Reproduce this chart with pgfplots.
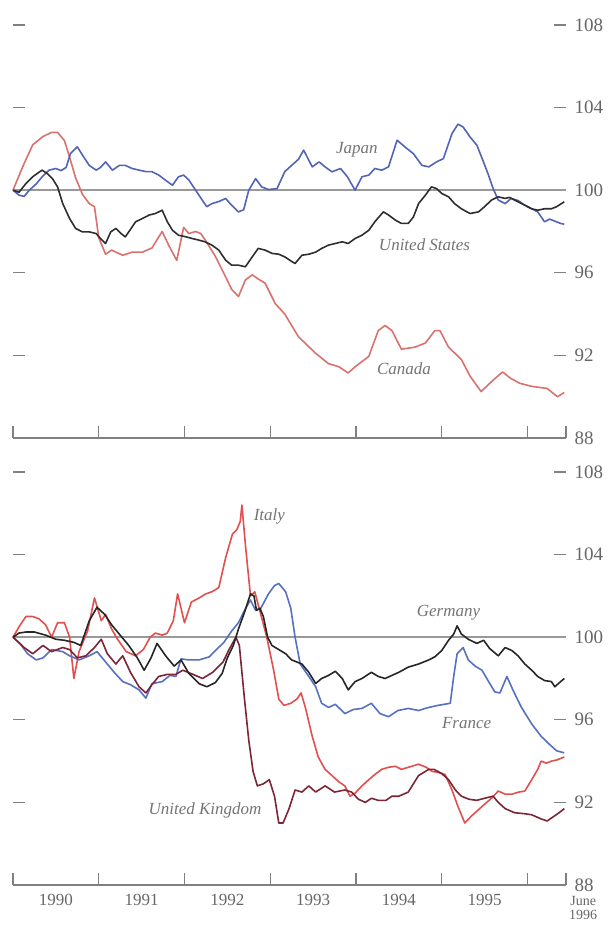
\documentclass[border=0pt]{standalone}
\usepackage{fontspec}
\setmainfont{Liberation Serif}
\usepackage{pgfplots}
\pgfplotsset{compat=1.18}
\definecolor{cancol}{HTML}{D9716D}
\definecolor{japcol}{HTML}{5264B4}
\definecolor{uscol}{HTML}{2E2E2E}
\definecolor{itacol}{HTML}{E0504F}
\definecolor{fracol}{HTML}{5670C2}
\definecolor{gercol}{HTML}{262626}
\definecolor{ukcol}{HTML}{7A2636}
\definecolor{labcol}{HTML}{747474}
\pgfplotsset{panel/.style={
  scale only axis, width=553pt, height=413pt,
  xmin=1990, xmax=1996.45, ymin=88, ymax=108,
  axis line style={draw=none},
  tick align=inside,
  ytick={88,92,...,108},
  ytick pos=both, yticklabel pos=right,
  xtick={1990,1991,...,1996,1996.45},
  xtick pos=left,
  xticklabels={},
  major tick length=12pt,
  tick style={black!50, line width=1.3pt},
  yticklabel style={font=\fontsize{19}{19}\selectfont, text=black!60, xshift=5pt},
  /pgf/number format/assume math mode=true,
  clip=false,
  every axis plot/.append style={line width=1.6pt, line join=round},
}}
\newcommand{\slab}{\itshape\fontsize{17}{17}\selectfont}
\newcommand{\ylab}{\fontsize{17}{18}\selectfont}
\begin{document}
\begin{tikzpicture}
\useasboundingbox (0,0) rectangle (611pt,925pt);
% ---------------- top panel
\begin{axis}[panel, at={(13pt,487pt)}, anchor=south west]
\draw[black!40, line width=2.4pt] (axis cs:1990,100) -- (axis cs:1996.45,100);
\draw[black!50, line width=1.5pt] (axis cs:1990,88) -- (axis cs:1996.45,88);
% Canada
\addplot[cancol] coordinates {
(1990.00,100.0)(1990.12,101.2)(1990.23,102.2)(1990.35,102.6)(1990.45,102.8)(1990.52,102.8)
(1990.60,102.4)(1990.66,101.6)(1990.73,100.6)(1990.81,99.8)(1990.89,99.35)(1990.95,99.2)
(1991.00,97.7)(1991.08,96.9)(1991.15,97.1)(1991.20,97.0)(1991.28,96.85)(1991.39,97.0)
(1991.51,97.0)(1991.62,97.2)(1991.74,98.0)(1991.82,97.3)(1991.91,96.6)(1991.99,98.2)
(1992.05,97.9)(1992.13,98.0)(1992.19,97.9)(1992.24,97.6)(1992.36,96.8)(1992.48,95.8)
(1992.55,95.2)(1992.63,94.85)(1992.71,95.65)(1992.79,95.9)(1992.86,95.7)(1992.94,95.5)
(1993.06,94.5)(1993.17,94.0)(1993.33,92.9)(1993.53,92.1)(1993.68,91.6)(1993.80,91.45)
(1993.91,91.15)(1993.99,91.45)(1994.15,91.95)(1994.26,93.2)(1994.34,93.45)(1994.42,93.2)
(1994.53,92.3)(1994.69,92.4)(1994.81,92.6)(1994.92,93.2)(1994.98,93.2)(1995.08,92.4)
(1995.23,91.8)(1995.33,91.0)(1995.46,90.25)(1995.60,90.8)(1995.71,91.2)(1995.80,90.9)
(1995.91,90.65)(1996.05,90.5)(1996.23,90.4)(1996.35,90.0)(1996.43,90.2)};
% Japan
\addplot[japcol] coordinates {
(1990.00,100)(1990.07,99.76)(1990.13,99.7)(1990.19,100.0)(1990.27,100.3)(1990.34,100.65)
(1990.42,100.97)(1990.50,101.05)(1990.56,100.95)(1990.62,101.1)(1990.67,101.77)(1990.75,102.1)
(1990.81,101.7)(1990.89,101.2)(1990.97,100.97)(1991.02,101.1)(1991.08,101.37)(1991.16,100.97)
(1991.24,101.2)(1991.31,101.2)(1991.39,101.05)(1991.47,100.97)(1991.55,100.9)(1991.62,100.9)
(1991.70,100.73)(1991.78,100.48)(1991.86,100.24)(1991.93,100.65)(1991.99,100.73)(1992.05,100.5)
(1992.13,100.0)(1992.21,99.5)(1992.26,99.2)(1992.32,99.35)(1992.40,99.45)(1992.48,99.6)
(1992.55,99.27)(1992.63,98.95)(1992.69,99.05)(1992.75,100.0)(1992.83,100.56)(1992.90,100.16)
(1992.98,100.03)(1993.08,100.08)(1993.17,100.9)(1993.25,101.2)(1993.33,101.5)(1993.39,101.94)
(1993.49,101.13)(1993.57,101.37)(1993.64,101.13)(1993.72,100.89)(1993.82,101.05)(1993.90,100.65)
(1993.99,100.0)(1994.07,100.65)(1994.15,100.73)(1994.22,101.05)(1994.30,100.97)(1994.38,101.13)
(1994.48,102.42)(1994.57,102.1)(1994.67,101.77)(1994.77,101.2)(1994.85,101.13)(1994.94,101.37)
(1995.02,101.53)(1995.12,102.74)(1995.19,103.2)(1995.25,103.06)(1995.33,102.58)(1995.41,102.18)
(1995.48,101.45)(1995.54,100.8)(1995.60,100.08)(1995.66,99.52)(1995.74,99.35)(1995.81,99.6)
(1995.89,99.5)(1995.97,99.27)(1996.05,99.1)(1996.12,98.95)(1996.20,98.47)(1996.26,98.6)
(1996.32,98.5)(1996.38,98.4)(1996.43,98.35)};
% United States
\addplot[uscol] coordinates {
(1990.00,100)(1990.07,99.9)(1990.15,100.32)(1990.23,100.65)(1990.31,100.89)(1990.34,100.97)
(1990.40,100.8)(1990.46,100.56)(1990.52,100.16)(1990.58,99.35)(1990.66,98.63)(1990.73,98.15)
(1990.81,97.98)(1990.89,97.98)(1990.97,97.9)(1991.02,97.66)(1991.08,97.42)(1991.14,97.98)
(1991.20,98.15)(1991.26,97.9)(1991.31,97.74)(1991.37,98.1)(1991.43,98.47)(1991.51,98.63)
(1991.59,98.8)(1991.66,98.87)(1991.74,99.03)(1991.80,98.47)(1991.86,98.06)(1991.93,97.82)
(1992.01,97.75)(1992.09,97.66)(1992.17,97.58)(1992.24,97.5)(1992.32,97.34)(1992.40,97.1)
(1992.48,96.61)(1992.55,96.37)(1992.63,96.37)(1992.71,96.29)(1992.79,96.77)(1992.86,97.18)
(1992.94,97.1)(1993.02,96.94)(1993.10,96.9)(1993.17,96.77)(1993.25,96.55)(1993.29,96.45)
(1993.37,96.85)(1993.45,96.9)(1993.53,97.0)(1993.60,97.18)(1993.68,97.34)(1993.76,97.42)
(1993.84,97.5)(1993.91,97.42)(1993.99,97.66)(1994.07,97.82)(1994.15,98.06)(1994.22,98.47)
(1994.32,98.95)(1994.38,98.8)(1994.46,98.55)(1994.53,98.39)(1994.61,98.39)(1994.67,98.7)
(1994.73,99.35)(1994.81,99.76)(1994.88,100.16)(1994.94,100.08)(1995.00,99.84)(1995.08,99.68)
(1995.15,99.35)(1995.23,99.1)(1995.33,98.87)(1995.43,98.95)(1995.50,99.2)(1995.58,99.52)
(1995.66,99.68)(1995.74,99.6)(1995.79,99.65)(1995.89,99.44)(1995.97,99.27)(1996.05,99.1)
(1996.12,99.03)(1996.20,99.1)(1996.28,99.1)(1996.34,99.2)(1996.43,99.44)};
\node[font=\slab, text=labcol] at (axis cs:1994.01,101.94) {Japan};
\node[font=\slab, text=labcol] at (axis cs:1994.80,97.34) {United States};
\node[font=\slab, text=labcol] at (axis cs:1994.56,91.37) {Canada};
\end{axis}
% ---------------- bottom panel
\begin{axis}[panel, at={(13pt,40pt)}, anchor=south west]
\draw[black!40, line width=2.4pt] (axis cs:1990,100) -- (axis cs:1996.45,100);
\draw[black!50, line width=1.5pt] (axis cs:1990,88) -- (axis cs:1996.45,88);
% Italy
\addplot[itacol] coordinates {
(1990.00,100)(1990.07,100.5)(1990.15,101.0)(1990.23,101.0)(1990.30,100.9)(1990.38,100.6)
(1990.45,100.0)(1990.52,100.7)(1990.60,100.7)(1990.66,100.0)(1990.71,98.0)(1990.77,99.3)
(1990.87,100.3)(1990.95,101.9)(1991.03,100.8)(1991.08,101.1)(1991.15,100.4)(1991.22,99.9)
(1991.32,99.3)(1991.43,99.1)(1991.52,99.4)(1991.60,100.0)(1991.66,100.2)(1991.74,100.1)
(1991.80,100.2)(1991.87,100.8)(1991.92,102.1)(1992.00,100.7)(1992.08,101.7)(1992.17,101.9)
(1992.25,102.1)(1992.32,102.2)(1992.40,102.4)(1992.48,103.85)(1992.56,105.0)(1992.61,105.2)
(1992.65,105.6)(1992.67,106.4)(1992.71,104.5)(1992.77,102.0)(1992.82,102.2)(1992.89,101.1)
(1992.96,100.0)(1993.04,98.4)(1993.10,97.0)(1993.16,96.7)(1993.24,96.8)(1993.31,97.0)
(1993.36,97.3)(1993.41,96.6)(1993.49,95.2)(1993.56,94.2)(1993.64,93.6)(1993.72,93.3)
(1993.80,93.0)(1993.87,92.8)(1993.93,92.3)(1993.99,92.45)(1994.07,92.8)(1994.15,93.1)
(1994.22,93.35)(1994.30,93.6)(1994.38,93.7)(1994.46,93.75)(1994.53,93.6)(1994.61,93.7)
(1994.73,93.85)(1994.82,93.7)(1994.89,93.5)(1994.96,93.45)(1995.04,93.35)(1995.12,92.6)
(1995.19,91.8)(1995.27,91.0)(1995.35,91.35)(1995.47,91.8)(1995.58,92.2)(1995.66,92.55)
(1995.74,92.4)(1995.82,92.4)(1995.90,92.5)(1995.97,92.55)(1996.05,93.1)(1996.12,93.6)
(1996.16,94.0)(1996.22,93.9)(1996.28,94.0)(1996.34,94.05)(1996.43,94.2)};
% France
\addplot[fracol] coordinates {
(1990.00,100)(1990.08,99.7)(1990.17,99.2)(1990.27,98.9)(1990.35,99.0)(1990.45,99.4)
(1990.58,99.3)(1990.66,99.1)(1990.77,98.9)(1990.89,99.1)(1990.98,99.3)(1991.08,98.8)
(1991.18,98.3)(1991.28,97.85)(1991.37,97.7)(1991.47,97.45)(1991.55,97.05)(1991.62,97.75)
(1991.74,97.85)(1991.83,98.15)(1991.90,98.1)(1991.96,98.95)(1992.05,98.9)(1992.17,98.9)
(1992.29,99.05)(1992.36,99.35)(1992.46,99.75)(1992.55,100.3)(1992.63,100.7)(1992.70,101.3)
(1992.77,101.8)(1992.83,101.3)(1992.89,101.4)(1992.98,102.1)(1993.05,102.5)(1993.10,102.6)
(1993.18,102.2)(1993.24,101.4)(1993.29,100.0)(1993.35,98.7)(1993.45,98.1)(1993.53,97.6)
(1993.60,96.8)(1993.68,96.6)(1993.76,96.75)(1993.87,96.3)(1993.97,96.5)(1994.07,96.55)
(1994.18,96.8)(1994.28,96.3)(1994.38,96.15)(1994.49,96.45)(1994.61,96.55)(1994.73,96.45)
(1994.85,96.6)(1994.96,96.7)(1995.10,96.8)(1995.14,98.1)(1995.18,99.2)(1995.25,99.5)
(1995.31,98.9)(1995.39,98.6)(1995.47,98.4)(1995.54,97.9)(1995.62,97.35)(1995.68,97.3)
(1995.76,98.1)(1995.83,97.45)(1995.93,96.6)(1996.05,95.8)(1996.16,95.2)(1996.26,94.8)
(1996.34,94.5)(1996.43,94.4)};
% United Kingdom
\addplot[ukcol] coordinates {
(1990.00,100)(1990.13,99.5)(1990.23,99.2)(1990.35,99.6)(1990.45,99.3)(1990.58,99.5)
(1990.66,99.4)(1990.75,99.0)(1990.85,99.1)(1990.95,99.5)(1991.03,99.9)(1991.10,99.2)
(1991.20,98.7)(1991.28,99.1)(1991.37,98.3)(1991.47,97.6)(1991.55,97.3)(1991.62,97.7)
(1991.70,98.1)(1991.80,98.2)(1991.90,98.2)(1991.98,98.4)(1992.10,98.2)(1992.21,98.0)
(1992.33,98.3)(1992.45,98.8)(1992.52,99.4)(1992.60,100.0)(1992.64,99.6)(1992.70,97.0)
(1992.75,95.0)(1992.80,93.5)(1992.85,92.8)(1992.92,92.9)(1992.99,93.1)(1993.05,92.3)
(1993.10,91.0)(1993.15,91.0)(1993.22,91.7)(1993.29,92.6)(1993.37,92.5)(1993.45,92.8)
(1993.53,92.5)(1993.64,92.8)(1993.75,92.5)(1993.87,92.6)(1993.95,92.5)(1994.03,92.15)
(1994.11,92.0)(1994.18,92.2)(1994.26,92.1)(1994.35,92.1)(1994.42,92.3)(1994.50,92.3)
(1994.61,92.5)(1994.73,93.3)(1994.85,93.6)(1994.91,93.6)(1995.00,93.4)(1995.08,93.1)
(1995.16,92.6)(1995.23,92.3)(1995.32,92.15)(1995.41,92.1)(1995.50,92.2)(1995.60,92.3)
(1995.66,92.0)(1995.74,91.7)(1995.85,91.5)(1995.97,91.45)(1996.05,91.4)(1996.16,91.2)
(1996.23,91.1)(1996.30,91.3)(1996.37,91.5)(1996.43,91.7)};
% Germany
\addplot[gercol] coordinates {
(1990.00,100)(1990.07,100.2)(1990.15,100.25)(1990.25,100.25)(1990.38,100.1)(1990.50,99.9)
(1990.60,99.85)(1990.71,99.75)(1990.79,99.6)(1990.89,100.8)(1990.98,101.45)(1991.07,101.1)
(1991.15,100.6)(1991.25,100.1)(1991.35,99.6)(1991.45,99.0)(1991.53,98.4)(1991.61,99.0)
(1991.68,99.7)(1991.78,99.1)(1991.88,98.6)(1991.96,98.9)(1992.05,98.25)(1992.17,97.75)
(1992.26,97.6)(1992.36,97.8)(1992.44,98.25)(1992.50,99.0)(1992.57,99.6)(1992.63,100.4)
(1992.70,101.2)(1992.77,102.1)(1992.81,102.0)(1992.84,101.3)(1992.88,101.4)(1992.92,101.0)
(1992.97,100.0)(1993.02,99.6)(1993.10,99.4)(1993.18,99.2)(1993.25,98.9)(1993.31,98.8)
(1993.37,98.7)(1993.45,98.3)(1993.53,97.76)(1993.60,98.0)(1993.68,98.15)(1993.76,98.35)
(1993.84,98.0)(1993.91,97.45)(1993.99,97.85)(1994.07,98.0)(1994.18,98.3)(1994.26,98.1)
(1994.34,98.0)(1994.42,98.15)(1994.50,98.3)(1994.61,98.55)(1994.73,98.7)(1994.85,98.9)
(1994.92,99.05)(1995.00,99.35)(1995.08,99.85)(1995.14,100.15)(1995.18,100.55)(1995.23,100.15)
(1995.31,99.9)(1995.41,99.7)(1995.49,99.85)(1995.56,99.45)(1995.66,99.1)(1995.74,99.5)
(1995.82,99.35)(1995.89,99.1)(1995.97,98.7)(1996.05,98.4)(1996.12,98.1)(1996.20,97.9)
(1996.28,97.85)(1996.32,97.6)(1996.36,97.75)(1996.43,98.0)};
\node[font=\slab, text=labcol] at (axis cs:1992.99,105.85) {Italy};
\node[font=\slab, text=labcol] at (axis cs:1995.08,101.2) {Germany};
\node[font=\slab, text=labcol] at (axis cs:1995.29,95.83) {France};
\node[font=\slab, text=labcol] at (axis cs:1992.24,91.6) {United Kingdom};
\node[font=\ylab, text=black!60, anchor=north, yshift=-6pt] at (axis cs:1990.5,88) {1990};
\node[font=\ylab, text=black!60, anchor=north, yshift=-6pt] at (axis cs:1991.5,88) {1991};
\node[font=\ylab, text=black!60, anchor=north, yshift=-6pt] at (axis cs:1992.5,88) {1992};
\node[font=\ylab, text=black!60, anchor=north, yshift=-6pt] at (axis cs:1993.5,88) {1993};
\node[font=\ylab, text=black!60, anchor=north, yshift=-6pt] at (axis cs:1994.5,88) {1994};
\node[font=\ylab, text=black!60, anchor=north, yshift=-6pt] at (axis cs:1995.5,88) {1995};
\node[font=\fontsize{14}{14}\selectfont, text=black!60, anchor=north, align=center, inner sep=1pt, yshift=-10pt] at (axis cs:1996.65,88) {June\\1996};
\end{axis}
\end{tikzpicture}
\end{document}
